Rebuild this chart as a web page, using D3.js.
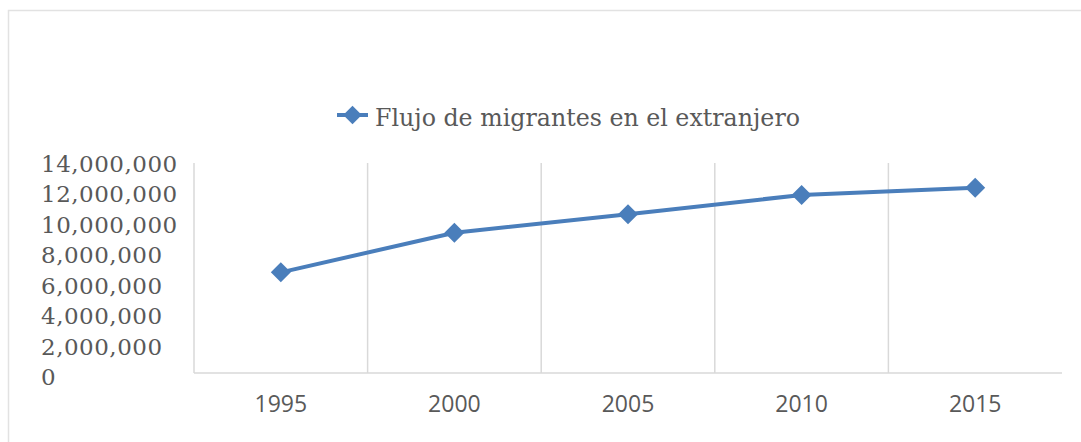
<!DOCTYPE html>
<html>
<head>
<meta charset="utf-8">
<script src="https://cdn.jsdelivr.net/npm/d3@7"></script>
<style>
  html, body { margin: 0; padding: 0; background: #ffffff; }
  svg { display: block; }
</style>
</head>
<body>
<svg id="chart" width="1081" height="442"></svg>
<script>
// ---- data ----
const years = ["1995", "2000", "2005", "2010", "2015"];
const migrants = [6710000, 9350000, 10580000, 11870000, 12350000];
const yTicks = [0, 2000000, 4000000, 6000000, 8000000, 10000000, 12000000, 14000000];
const seriesName = "Flujo de migrantes en el extranjero";

// ---- styles ----
const blue = "#4a7ebb";
const grid = "#d9d9d9";
const textGray = "#595959";

const svg = d3.select("#chart");

// outer border (top/left visible)
svg.append("rect")
  .attr("x", 8.5).attr("y", 10.5)
  .attr("width", 1100).attr("height", 460)
  .attr("fill", "none").attr("stroke", "#e2e2e2").attr("stroke-width", 1.5);

const x = d3.scaleBand().domain(years).range([194, 1062]).paddingInner(0).paddingOuter(0);
const y = d3.scaleLinear().domain([0, 14000000]).range([373, 163]);
const yLabel = d3.scaleLinear().domain([0, 14000000]).range([377, 163.5]);

// vertical gridlines at category starts
svg.append("g").selectAll("line").data(years).join("line")
  .attr("x1", d => x(d)).attr("x2", d => x(d))
  .attr("y1", y(14000000)).attr("y2", y(0))
  .attr("stroke", grid).attr("stroke-width", 1.5);

// x axis line
svg.append("line")
  .attr("x1", x.range()[0]).attr("x2", x.range()[1])
  .attr("y1", y(0)).attr("y2", y(0))
  .attr("stroke", grid).attr("stroke-width", 1.5);

// y tick labels (left aligned)
const fmt = d3.format(",");
svg.append("g").selectAll("text").data(yTicks).join("text")
  .attr("x", 41)
  .attr("y", d => yLabel(d))
  .attr("dy", "0.35em")
  .attr("font-family", "DejaVu Serif")
  .attr("font-size", 23)
  .attr("letter-spacing", 0.5)
  .attr("fill", textGray)
  .text(d => fmt(d));

// x tick labels
const xAxis = d3.axisBottom(x).tickSize(0).tickPadding(0);
const gx = svg.append("g").attr("transform", `translate(0,${y(0)})`).call(xAxis);
gx.select(".domain").remove();
gx.selectAll("text")
  .attr("y", 39).attr("dy", 0)
  .attr("font-family", "Open Sans")
  .attr("font-size", 23)
  .attr("fill", textGray);

// line
const line = d3.line()
  .x((d, i) => x(years[i]) + x.bandwidth() / 2)
  .y(d => y(d));
svg.append("path")
  .datum(migrants)
  .attr("d", line)
  .attr("fill", "none")
  .attr("stroke", blue)
  .attr("stroke-width", 4)
  .attr("stroke-linejoin", "round");

const diamond = d3.symbol().type(d3.symbolSquare).size(200);
svg.append("g").selectAll("path").data(migrants).join("path")
  .attr("d", diamond)
  .attr("transform", (d, i) => `translate(${x(years[i]) + x.bandwidth() / 2},${y(d)}) rotate(45)`)
  .attr("fill", blue);

// legend
const lg = svg.append("g");
lg.append("line").attr("x1", 337).attr("x2", 368).attr("y1", 115).attr("y2", 115)
  .attr("stroke", blue).attr("stroke-width", 4);
lg.append("path").attr("d", d3.symbol().type(d3.symbolSquare).size(170))
  .attr("transform", "translate(352.5,115) rotate(45)").attr("fill", blue);
lg.append("text")
  .attr("x", 375).attr("y", 126)
  .attr("font-family", "DejaVu Serif")
  .attr("font-size", 24)
  .attr("textLength", 425)
  .attr("lengthAdjust", "spacingAndGlyphs")
  .attr("fill", textGray)
  .text(seriesName);
</script>
</body>
</html>
